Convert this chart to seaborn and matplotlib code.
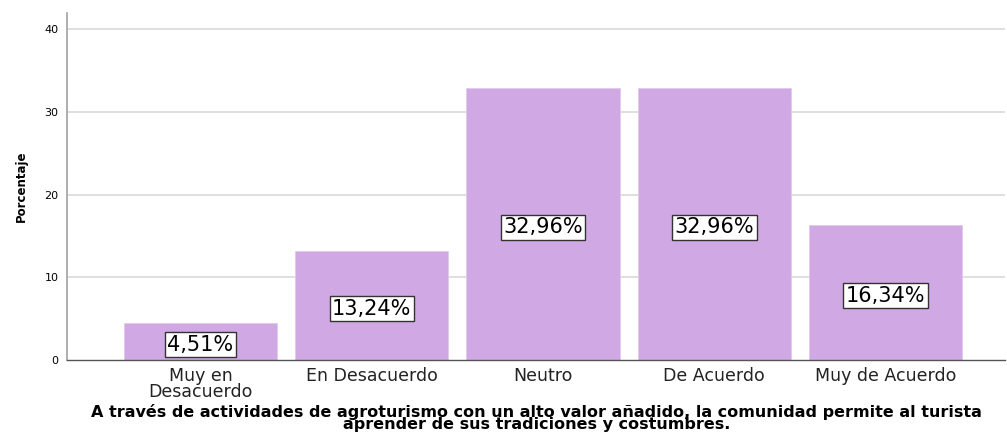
#!/usr/bin/env python

import matplotlib
matplotlib.use("Agg")
import matplotlib.pyplot as plt
import seaborn as sns
import pandas as pd

categorias = ["Muy en\nDesacuerdo", "En Desacuerdo", "Neutro", "De Acuerdo", "Muy de Acuerdo"]
porcentajes = [4.51, 13.24, 32.96, 32.96, 16.34]
etiquetas = ["4,51%", "13,24%", "32,96%", "32,96%", "16,34%"]
yticks = [0, 10, 20, 30, 40]
titulo = ("A través de actividades de agroturismo con un alto valor añadido, la comunidad permite al turista\n"
          "aprender de sus tradiciones y costumbres.")

sns.set_theme(style="white")
plt.rcParams["font.family"] = ["DejaVu Sans"]

df = pd.DataFrame({"cat": categorias, "pct": porcentajes})

fig = plt.figure(figsize=(10.07, 4.46), dpi=100)
ax = fig.add_axes([0.0665, 0.193, 0.932, 0.778])

for t in yticks[1:]:
    ax.axhline(t, color="#d9d9d9", lw=1.2, zorder=0)

sns.barplot(data=df, x="cat", y="pct", order=categorias, color="#d0a9e4",
            width=0.895, saturation=1, edgecolor="#e2c8ee", linewidth=0.6, ax=ax, zorder=2)

for i, (v, lab) in enumerate(zip(porcentajes, etiquetas)):
    ax.text(i, v / 2 - 0.4, lab, ha="center", va="center", fontsize=15, color="black",
            zorder=3, bbox=dict(boxstyle="square,pad=0.12", fc="white", ec="#333333", lw=1))

ax.set_xlim(-0.78, 4.70)
ax.set_ylim(0, 42)
ax.set_yticks(yticks)
ax.set_yticklabels([str(t) for t in yticks], fontsize=8, color="black")
ax.tick_params(axis="x", labelsize=12.5, length=0, pad=5, labelcolor="#222222")
ax.tick_params(axis="y", length=0, pad=6)
for lbl in ax.get_xticklabels():
    lbl.set_linespacing(0.85)

ax.set_ylabel("Porcentaje", fontsize=8.5, fontweight="bold", labelpad=12, color="black")
ax.set_xlabel(titulo, fontsize=11.5, fontweight="bold", linespacing=0.8, labelpad=2, color="black")

for s in ["top", "right"]:
    ax.spines[s].set_visible(False)
ax.spines["left"].set_color("#a0a0a0")
ax.spines["bottom"].set_color("#555555")
ax.spines["left"].set_linewidth(1.2)
ax.spines["bottom"].set_linewidth(1.0)

fig.savefig("out.png", dpi=100)
